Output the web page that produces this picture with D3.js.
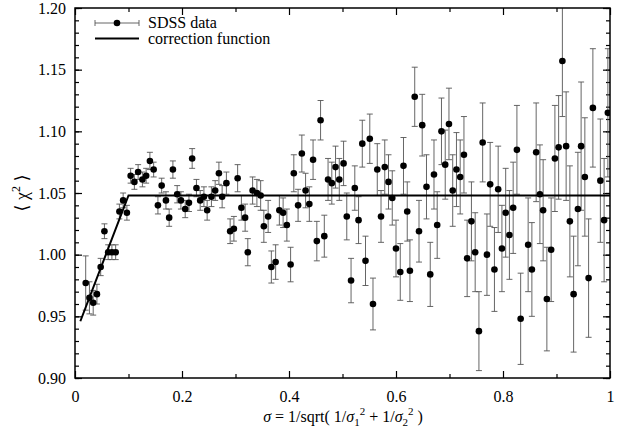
<!DOCTYPE html>
<html>
<head>
<meta charset="utf-8">
<script src="https://cdn.jsdelivr.net/npm/d3@7"></script>
<style>
  body { margin: 0; background: #fff; }
  text { font-family: 'Liberation Serif', 'Times New Roman', Times, 'DejaVu Serif', serif; }
</style>
</head>
<body>
<div id="chart"></div>
<script>
(function() {
  'use strict';

  var FONT = 'Liberation Serif, Times New Roman, Times, DejaVu Serif, serif';

  // SDSS points: sigma, <chi^2>, error
  var xVals = [0.020, 0.027, 0.034, 0.041, 0.048, 0.055, 0.062, 0.069, 0.076, 0.083,
    0.090, 0.097, 0.104, 0.111, 0.118, 0.126, 0.133, 0.140, 0.147, 0.155,
    0.162, 0.170, 0.176, 0.183, 0.191, 0.198, 0.206, 0.213, 0.219, 0.227,
    0.234, 0.241, 0.247, 0.255, 0.262, 0.269, 0.275, 0.283, 0.290, 0.297,
    0.304, 0.311, 0.318, 0.323, 0.332, 0.340, 0.347, 0.353, 0.361, 0.367,
    0.375, 0.382, 0.389, 0.396, 0.403, 0.409, 0.417, 0.424, 0.431, 0.438,
    0.445, 0.452, 0.459, 0.466, 0.473, 0.480, 0.487, 0.494, 0.502, 0.508,
    0.516, 0.523, 0.530, 0.537, 0.543, 0.551, 0.557, 0.565, 0.572, 0.579,
    0.586, 0.593, 0.600, 0.608, 0.614, 0.621, 0.626, 0.635, 0.643, 0.649,
    0.657, 0.664, 0.671, 0.677, 0.685, 0.692, 0.699, 0.706, 0.713, 0.720,
    0.727, 0.733, 0.741, 0.748, 0.755, 0.762, 0.770, 0.776, 0.784, 0.791,
    0.798, 0.805, 0.812, 0.819, 0.826, 0.833, 0.847, 0.854, 0.862, 0.869,
    0.875, 0.882, 0.890, 0.897, 0.904, 0.911, 0.918, 0.925, 0.932, 0.940,
    0.946, 0.953, 0.960, 0.968, 0.982, 0.989, 0.996];
  var yVals = [0.977, 0.965, 0.961, 0.968, 0.990, 1.019, 1.002, 1.002, 1.002, 1.035,
    1.044, 1.034, 1.064, 1.059, 1.067, 1.061, 1.064, 1.076, 1.069, 1.040,
    1.056, 1.044, 1.030, 1.069, 1.049, 1.044, 1.037, 1.042, 1.078, 1.054,
    1.044, 1.047, 1.036, 1.047, 1.052, 1.066, 1.047, 1.058, 1.019, 1.021,
    1.062, 1.038, 1.030, 1.002, 1.052, 1.050, 1.048, 1.023, 1.031, 0.990,
    0.994, 1.036, 1.034, 1.024, 0.992, 1.066, 1.040, 1.082, 1.052, 1.041,
    1.077, 1.011, 1.109, 1.015, 1.061, 1.058, 1.071, 1.061, 1.074, 1.031,
    0.979, 1.054, 1.028, 1.090, 0.995, 1.094, 0.960, 1.069, 1.031, 1.071,
    1.059, 1.046, 1.005, 0.986, 1.072, 1.035, 0.987, 1.128, 1.019, 1.105,
    1.055, 0.984, 1.065, 1.024, 1.100, 1.073, 1.106, 1.052, 1.069, 1.063,
    1.081, 0.997, 1.027, 1.002, 0.938, 1.091, 1.000, 1.057, 0.988, 1.053,
    1.005, 1.034, 1.016, 1.038, 1.085, 0.948, 1.008, 0.988, 1.083, 1.049,
    1.036, 0.964, 1.004, 1.078, 1.087, 1.157, 1.088, 1.027, 0.968, 1.037,
    1.088, 1.063, 0.981, 1.119, 1.060, 1.028, 1.115];
  var errVals = [0.022, 0.013, 0.010, 0.008, 0.007, 0.006, 0.006, 0.006, 0.006, 0.006,
    0.006, 0.006, 0.006, 0.006, 0.006, 0.006, 0.006, 0.007, 0.006, 0.007,
    0.006, 0.007, 0.007, 0.007, 0.007, 0.007, 0.007, 0.007, 0.008, 0.007,
    0.008, 0.008, 0.008, 0.008, 0.008, 0.009, 0.009, 0.009, 0.010, 0.010,
    0.011, 0.010, 0.011, 0.011, 0.011, 0.011, 0.012, 0.013, 0.013, 0.013,
    0.014, 0.012, 0.012, 0.013, 0.014, 0.015, 0.013, 0.015, 0.014, 0.014,
    0.016, 0.016, 0.016, 0.017, 0.017, 0.017, 0.017, 0.017, 0.018, 0.019,
    0.018, 0.018, 0.019, 0.019, 0.020, 0.020, 0.021, 0.021, 0.021, 0.022,
    0.022, 0.022, 0.023, 0.023, 0.023, 0.024, 0.025, 0.024, 0.025, 0.025,
    0.026, 0.026, 0.028, 0.027, 0.027, 0.028, 0.029, 0.029, 0.030, 0.030,
    0.031, 0.031, 0.032, 0.032, 0.032, 0.032, 0.033, 0.034, 0.034, 0.035,
    0.035, 0.036, 0.036, 0.037, 0.036, 0.037, 0.038, 0.038, 0.040, 0.040,
    0.041, 0.042, 0.042, 0.043, 0.042, 0.045, 0.044, 0.045, 0.047, 0.046,
    0.052, 0.048, 0.048, 0.048, 0.050, 0.050, 0.052];

  // correction function (linear ramp then flat)
  var corrX = [0.010, 0.100, 1.000];
  var corrY = [0.946, 1.048, 1.048];

  var xMajor = [0, 0.2, 0.4, 0.6, 0.8, 1];
  var xMinor = [0.1, 0.3, 0.5, 0.7, 0.9];
  var yMajor = [0.90, 0.95, 1.00, 1.05, 1.10, 1.15, 1.20];
  var yMinor = d3.range(90, 121).map(function(v) { return v / 100; });

  var legendLabels = ['SDSS data', 'correction function'];

  //Width and height
  var W = 618, H = 433;
  var left = 75, right = 610, top = 8, bottom = 378;

  var svg = d3.select('#chart').append('svg').attr('width', W).attr('height', H);

  var x = d3.scaleLinear().domain([0, 1]).range([left, right]);
  var y = d3.scaleLinear().domain([0.90, 1.20]).range([bottom, top]);

  svg.append('clipPath').attr('id', 'plotClip')
    .append('rect').attr('x', left).attr('y', top).attr('width', right - left).attr('height', bottom - top);

  // axes: ticks pointing inward on all four sides
  var addAxis = function(axis, tx, ty, labels) {
    var g = svg.append('g').attr('transform', 'translate(' + tx + ',' + ty + ')').call(axis);
    g.select('.domain').remove();
    g.attr('font-family', null).attr('font-size', 16);
    g.selectAll('line').attr('stroke', '#000').attr('stroke-width', 1.2);
    if (!labels) {
      g.selectAll('text').remove();
    } else {
      g.selectAll('text').attr('fill', '#000');
    }
    return g;
  };

  addAxis(d3.axisBottom(x).tickValues(xMajor).tickSize(-7).tickPadding(13)
    .tickFormat(function(d) { return d === 0 || d === 1 ? String(d) : d3.format('.1f')(d); }), 0, bottom, true);
  addAxis(d3.axisBottom(x).tickValues(xMinor).tickSize(-4), 0, bottom, false);
  addAxis(d3.axisTop(x).tickValues(xMajor).tickSize(-7), 0, top, false);
  addAxis(d3.axisTop(x).tickValues(xMinor).tickSize(-4), 0, top, false);

  addAxis(d3.axisLeft(y).tickValues(yMinor).tickSize(-4), left, 0, false);
  addAxis(d3.axisLeft(y).tickValues(yMajor).tickSize(-7).tickPadding(9).tickFormat(d3.format('.2f')), left, 0, true);
  addAxis(d3.axisRight(y).tickValues(yMinor).tickSize(-4), right, 0, false);
  addAxis(d3.axisRight(y).tickValues(yMajor).tickSize(-7), right, 0, false);

  var data = xVals.map(function(d, i) {
    return { x: d, y: yVals[i], e: errVals[i] };
  });

  var plot = svg.append('g').attr('clip-path', 'url(#plotClip)');

  // error bars
  var bars = plot.append('g').selectAll('g')
    .data(data)
    .enter()
    .append('g')
    .attr('stroke', '#555')
    .attr('stroke-width', 0.9);

  bars.append('line')
    .attr('x1', function(d) { return x(d.x); })
    .attr('x2', function(d) { return x(d.x); })
    .attr('y1', function(d) { return y(d.y - d.e); })
    .attr('y2', function(d) { return y(d.y + d.e); });

  bars.append('line')
    .attr('x1', function(d) { return x(d.x) - 3; })
    .attr('x2', function(d) { return x(d.x) + 3; })
    .attr('y1', function(d) { return y(d.y - d.e); })
    .attr('y2', function(d) { return y(d.y - d.e); });

  bars.append('line')
    .attr('x1', function(d) { return x(d.x) - 3; })
    .attr('x2', function(d) { return x(d.x) + 3; })
    .attr('y1', function(d) { return y(d.y + d.e); })
    .attr('y2', function(d) { return y(d.y + d.e); });

  // correction function
  var line = d3.line()
    .x(function(d, i) { return x(corrX[i]); })
    .y(function(d) { return y(d); });

  plot.append('path')
    .datum(corrY)
    .attr('d', line)
    .attr('fill', 'none')
    .attr('stroke', '#000')
    .attr('stroke-width', 2);

  plot.append('g').selectAll('circle')
    .data(data)
    .enter()
    .append('circle')
    .attr('cx', function(d) { return x(d.x); })
    .attr('cy', function(d) { return y(d.y); })
    .attr('r', 3.3)
    .attr('fill', '#000');

  // frame
  svg.append('rect')
    .attr('x', left).attr('y', top)
    .attr('width', right - left).attr('height', bottom - top)
    .attr('fill', 'none').attr('stroke', '#000').attr('stroke-width', 1.5);

  // legend
  var lg = svg.append('g');
  lg.append('line').attr('x1', 95).attr('x2', 139).attr('y1', 23).attr('y2', 23)
    .attr('stroke', '#555').attr('stroke-width', 0.9);
  lg.append('line').attr('x1', 95).attr('x2', 95).attr('y1', 20).attr('y2', 26)
    .attr('stroke', '#555').attr('stroke-width', 0.9);
  lg.append('line').attr('x1', 139).attr('x2', 139).attr('y1', 20).attr('y2', 26)
    .attr('stroke', '#555').attr('stroke-width', 0.9);
  lg.append('circle').attr('cx', 117).attr('cy', 23).attr('r', 3.3).attr('fill', '#000');
  lg.append('line').attr('x1', 95).attr('x2', 139).attr('y1', 38.5).attr('y2', 38.5)
    .attr('stroke', '#000').attr('stroke-width', 2);

  lg.selectAll('text.lab')
    .data(legendLabels)
    .enter()
    .append('text')
    .attr('class', 'lab')
    .attr('x', 148)
    .attr('y', function(d, i) { return 28 + i * 15.5; })
    .attr('font-size', 16)
    .text(function(d) { return d; });

  // axis titles
  var xt = svg.append('text')
    .attr('x', 343).attr('y', 422)
    .attr('text-anchor', 'middle')
    .attr('font-size', 16);
  xt.append('tspan').attr('font-style', 'italic').text('σ');
  xt.append('tspan').text(' = 1/sqrt( 1/');
  xt.append('tspan').attr('font-style', 'italic').text('σ');
  xt.append('tspan').attr('font-size', 11).attr('dy', 4).text('1');
  xt.append('tspan').attr('font-size', 11).attr('dy', -11).text('2');
  xt.append('tspan').attr('dy', 7).text(' + 1/');
  xt.append('tspan').attr('font-style', 'italic').text('σ');
  xt.append('tspan').attr('font-size', 11).attr('dy', 4).text('2');
  xt.append('tspan').attr('font-size', 11).attr('dy', -11).text('2');
  xt.append('tspan').attr('dy', 7).text(' )');

  var yt = svg.append('text')
    .attr('transform', 'translate(28,' + y(1.05) + ') rotate(-90)')
    .attr('text-anchor', 'middle')
    .attr('font-size', 18);
  yt.append('tspan').text('⟨ χ');
  yt.append('tspan').attr('font-size', 12).attr('dy', -8).text('2');
  yt.append('tspan').attr('dy', 8).text(' ⟩');
})();
</script>
</body>
</html>
